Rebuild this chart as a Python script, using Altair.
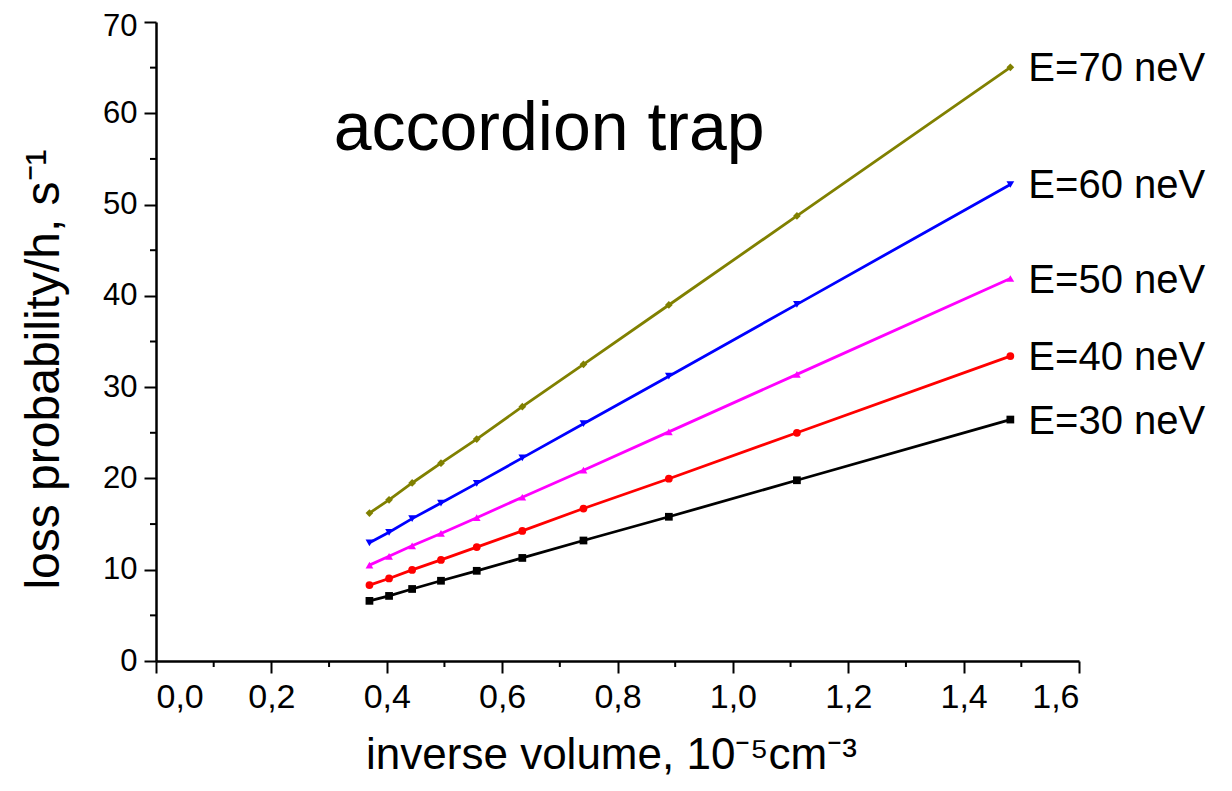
import altair as alt
import pandas as pd

# ---- data ----
inv_volume = [0.370, 0.404, 0.444, 0.494, 0.556, 0.635, 0.741, 0.889, 1.111, 1.481]
e30 = [6.59, 7.13, 7.89, 8.79, 9.88, 11.29, 13.2, 15.8, 19.8, 26.45]
e40 = [8.32, 9.04, 9.98, 11.07, 12.48, 14.25, 16.7, 19.97, 25.0, 33.4]
e50 = [10.5, 11.47, 12.62, 13.97, 15.7, 17.94, 20.9, 25.1, 31.4, 41.9]
e60 = [12.95, 14.1, 15.6, 17.3, 19.46, 22.25, 26.0, 31.2, 39.07, 52.2]
e70 = [16.2, 17.66, 19.5, 21.67, 24.31, 27.86, 32.5, 39.0, 48.76, 65.04]

series_names = ["E=30 neV", "E=40 neV", "E=50 neV", "E=60 neV", "E=70 neV"]
series_values = [e30, e40, e50, e60, e70]
series_colors = ["#000000", "#FF0000", "#FF00FF", "#0000FF", "#808000"]
series_shapes = ["square", "circle", "triangle-up", "triangle-down", "diamond"]

x_major = [0.0, 0.2, 0.4, 0.6, 0.8, 1.0, 1.2, 1.4, 1.6]
x_minor = [0.1, 0.3, 0.5, 0.7, 0.9, 1.1, 1.3, 1.5]
y_major = [0, 10, 20, 30, 40, 50, 60, 70]
y_minor = [5, 15, 25, 35, 45, 55, 65]

annotation_text = ["accordion trap"]
annotation_x = [0.308]
annotation_y = [56.0]

FONT = "Liberation Sans"
TOP = 14
H = 661 - 8 - TOP

rows = []
for name, vals in zip(series_names, series_values):
    for xv, yv in zip(inv_volume, vals):
        rows.append({"series": name, "x": xv, "y": yv})
df = pd.DataFrame(rows)
last = df.groupby("series", as_index=False).last()

xscale = alt.Scale(domain=[0, 1.6], nice=False, zero=False)
yscale = alt.Scale(domain=[0, 70], nice=False)
color = alt.Color("series:N", scale=alt.Scale(domain=series_names, range=series_colors), legend=None)
shape = alt.Shape("series:N", scale=alt.Scale(domain=series_names, range=series_shapes), legend=None)

xaxis = alt.Axis(
    values=x_major,
    labelExpr="replace(format(datum.value, '.1f'), '.', ',')",
    tickSize=12, labelPadding=7, labelFontSize=34,
    title="inverse volume, 10⁻⁵cm⁻³", titleFontSize=44,
    titleX=455, titleY=107, titleBaseline="alphabetic", titleAlign="center",
)
yaxis = alt.Axis(
    values=y_major, format="d",
    tickSize=12, labelPadding=7, labelFontSize=31,
    labelOffset={"condition": {"test": "datum.value >= 70", "value": 4}, "value": 0},
    title="loss probability/h, s⁻¹", titleFontSize=48,
    titleX=-98, titleY=369 - 8 - TOP, titleBaseline="alphabetic", titleAlign="center", titleAngle=-90,
)

base = alt.Chart(df)
lines = base.mark_line(strokeWidth=2.8).encode(
    x=alt.X("x:Q", scale=xscale, axis=xaxis),
    y=alt.Y("y:Q", scale=yscale, axis=yaxis),
    color=color,
    detail="series:N",
)
points = base.mark_point(filled=True, size=60, opacity=1).encode(
    x=alt.X("x:Q", scale=xscale),
    y=alt.Y("y:Q", scale=yscale),
    color=color,
    shape=shape,
)
labels = alt.Chart(last).mark_text(
    align="left", baseline="middle", dx=18, dy=2, fontSize=40, font=FONT, color="black"
).encode(
    x=alt.X("x:Q", scale=xscale),
    y=alt.Y("y:Q", scale=yscale),
    text="series:N",
)

xminor = alt.Chart(pd.DataFrame({"v": x_minor})).mark_rule(color="black", strokeWidth=2).encode(
    x=alt.X("v:Q", scale=xscale), y=alt.value(H), y2=alt.value(H + 6)
)
yminor = alt.Chart(pd.DataFrame({"v": y_minor})).mark_rule(color="black", strokeWidth=2).encode(
    y=alt.Y("v:Q", scale=yscale), x=alt.value(-6), x2=alt.value(0)
)

annot = alt.Chart(pd.DataFrame({"t": annotation_text, "x": annotation_x, "y": annotation_y})).mark_text(
    align="left", baseline="alphabetic", fontSize=68, font=FONT, color="black"
).encode(
    x=alt.X("x:Q", scale=xscale),
    y=alt.Y("y:Q", scale=yscale),
    text="t:N",
)

chart = alt.layer(lines, points, labels, xminor, yminor, annot).properties(
    width=923, height=H,
    autosize=alt.AutoSizeParams(type="none"),
    padding={"left": 148, "top": TOP, "right": 145, "bottom": 775 - TOP - H},
).configure_view(stroke=None).configure_axis(
    grid=False,
    domainColor="black", domainWidth=2.5,
    tickColor="black", tickWidth=2,
    labelFont=FONT, titleFont=FONT,
    labelColor="black", titleColor="black",
    titleFontWeight="normal",
)

chart.save("out.html", embed_options={"renderer": "svg", "actions": False})
